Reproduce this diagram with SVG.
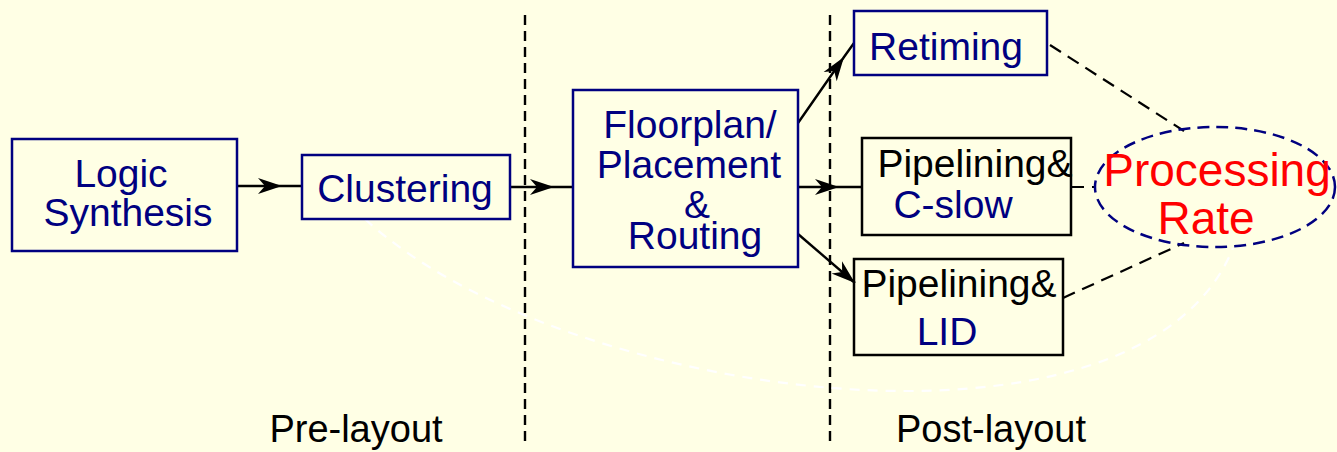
<svg xmlns="http://www.w3.org/2000/svg" width="1337" height="452" viewBox="0 0 1337 452">
  <style>
    .bg { fill: #FFFFE5; }
    .box-navy { fill: none; stroke: #000080; stroke-width: 2.5; }
    .box-black { fill: none; stroke: #000000; stroke-width: 2.5; }
    text { font-family: "Liberation Sans", Arial, Helvetica, sans-serif; }
    .lbl { font-size: 39px; fill: #000080; }
    .lbl-k { font-size: 39px; fill: #000000; }
    .rate { font-size: 46px; fill: #FF0000; }
    .phase { font-size: 38px; fill: #000000; }
    .flow { fill: none; stroke: #000000; stroke-width: 2.4; marker-mid: url(#head); }
    .flow-end { fill: none; stroke: #000000; stroke-width: 2.4; marker-end: url(#head); }
    .divider { fill: none; stroke: #000000; stroke-width: 2.4; stroke-dasharray: 10 6; }
    .link { fill: none; stroke: #000000; stroke-width: 2.2; stroke-dasharray: 13 8; }
    .loop { fill: none; stroke: #FFFFFF; stroke-width: 2.2; stroke-dasharray: 10 8; }
    .goal { fill: none; stroke: #000080; stroke-width: 2.5; stroke-dasharray: 12 7; }
  </style>
  <defs>
    <marker id="head" markerUnits="userSpaceOnUse" markerWidth="30" markerHeight="20" viewBox="-26 -10 28 20" refX="0" refY="0" orient="auto">
      <path d="M0 0 L-24 -8 L-17 0 L-24 8 Z" fill="#000000"/>
    </marker>
  </defs>

  <rect class="bg" x="0" y="0" width="1337" height="452"/>

  <!-- phase separators -->
  <g id="dividers">
    <line class="divider" x1="525" y1="15" x2="525" y2="446"/>
    <line class="divider" x1="830" y1="15" x2="830" y2="446"/>
  </g>

  <!-- feedback loop from post-layout back to clustering -->
  <path id="feedback" class="loop" d="M365 219 C560 400, 1140 480, 1233 248"/>

  <!-- connectors -->
  <g id="connectors">
    <path class="flow" d="M237 186 L282 186 L301 186"/>
    <path class="flow" d="M510 187 L554 187 L573 187"/>
    <path class="flow" d="M798 187 L839 187 L862 187"/>
    <path class="flow" d="M798 123 L844 57 L854 43"/>
    <path class="flow-end" d="M798 234 L855 283"/>
    <line class="link" x1="1050" y1="45" x2="1184" y2="131"/>
    <line class="link" x1="1071" y1="187" x2="1096" y2="187"/>
    <line class="link" x1="1063" y1="298" x2="1184" y2="243"/>
  </g>

  <g id="logic-synthesis">
    <rect class="box-navy" x="12" y="139" width="225" height="112"/>
    <text class="lbl" x="121" y="187" text-anchor="middle">Logic</text>
    <text class="lbl" x="128" y="226" text-anchor="middle">Synthesis</text>
  </g>

  <g id="clustering">
    <rect class="box-navy" x="302" y="155" width="208" height="64"/>
    <text class="lbl" x="405" y="202" text-anchor="middle">Clustering</text>
  </g>

  <g id="floorplan">
    <rect class="box-navy" x="573" y="90" width="225" height="177"/>
    <text class="lbl" x="690" y="138" text-anchor="middle">Floorplan/</text>
    <text class="lbl" x="689" y="178" text-anchor="middle">Placement</text>
    <text class="lbl" x="697" y="218" text-anchor="middle">&amp;</text>
    <text class="lbl" x="695" y="249" text-anchor="middle">Routing</text>
  </g>

  <g id="retiming">
    <rect class="box-navy" x="854" y="11" width="193" height="64"/>
    <text class="lbl" x="946" y="60" text-anchor="middle">Retiming</text>
  </g>

  <g id="pipelining-cslow">
    <rect class="box-black" x="862" y="138" width="209" height="97"/>
    <text class="lbl-k" x="975" y="177" text-anchor="middle">Pipelining&amp;</text>
    <text class="lbl" x="953" y="218" text-anchor="middle">C-slow</text>
  </g>

  <g id="pipelining-lid">
    <rect class="box-black" x="854" y="259" width="209" height="96"/>
    <text class="lbl-k" x="959" y="297" text-anchor="middle">Pipelining&amp;</text>
    <text class="lbl" x="947" y="345" text-anchor="middle">LID</text>
  </g>

  <g id="processing-rate">
    <ellipse class="goal" cx="1215" cy="187" rx="120" ry="60"/>
    <text class="rate" x="1217" y="186" text-anchor="middle">Processing</text>
    <text class="rate" x="1206" y="234" text-anchor="middle">Rate</text>
  </g>

  <g id="phase-labels">
    <text class="phase" x="356" y="442" text-anchor="middle">Pre-layout</text>
    <text class="phase" x="991" y="442" text-anchor="middle">Post-layout</text>
  </g>
</svg>
